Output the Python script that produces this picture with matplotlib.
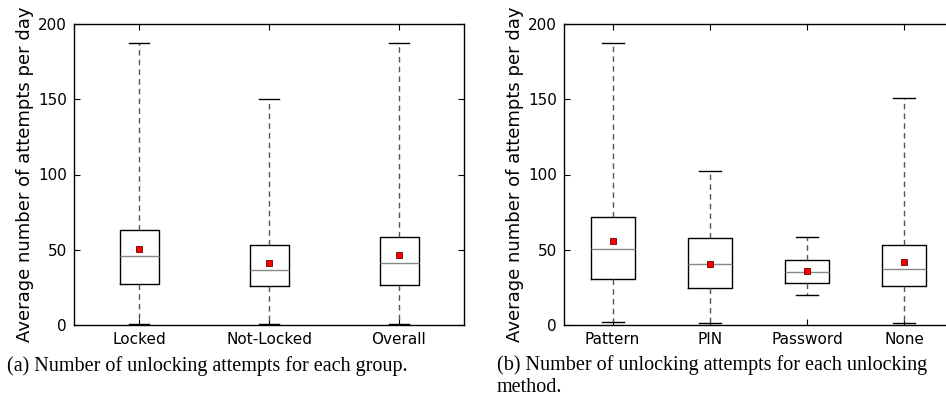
import matplotlib
matplotlib.use('Agg')
import matplotlib.pyplot as plt

# group view (a)
groups = ['Locked', 'Not-Locked', 'Overall']
grp_low = [0.5, 0.5, 0.5]
grp_q1 = [27.0, 25.7, 26.6]
grp_med = [45.6, 36.3, 41.0]
grp_q3 = [63.3, 53.2, 58.7]
grp_high = [187.2, 150.4, 187.2]
grp_mean = [50.5, 41.2, 46.5]

# unlocking method view (b)
methods = ['Pattern', 'PIN', 'Password', 'None']
mth_low = [1.8, 1.1, 19.7, 1.1]
mth_q1 = [30.4, 24.4, 28.1, 25.9]
mth_med = [50.3, 40.7, 35.0, 37.0]
mth_q3 = [71.8, 58.0, 43.0, 53.4]
mth_high = [187.2, 102.1, 58.3, 151.0]
mth_mean = [56.0, 40.5, 36.1, 42.1]

yticks = [0, 50, 100, 150, 200]
ylabel = 'Average number of attempts per day'
cap_a = '(a) Number of unlocking attempts for each group.'
cap_b = '(b) Number of unlocking attempts for each unlocking\nmethod.'


def make_stats(labels, low, q1, med, q3, high, mean):
    out = []
    for i in range(len(labels)):
        out.append(dict(label=labels[i], whislo=low[i], q1=q1[i], med=med[i],
                        q3=q3[i], whishi=high[i], mean=mean[i], fliers=[]))
    return out


def draw(ax, stats, width):
    ax.bxp(stats, widths=width, showmeans=True, showfliers=False,
           boxprops=dict(color='black', linewidth=1.0),
           medianprops=dict(color='#888888', linewidth=1.0),
           whiskerprops=dict(color='#555555', linestyle=(0, (4, 3)), linewidth=1.0),
           capprops=dict(color='black', linewidth=1.0),
           meanprops=dict(marker='s', markerfacecolor='red', markeredgecolor='#660000',
                          markersize=4.8, markeredgewidth=0.6))
    ax.set_ylim(0, 200)
    ax.set_yticks(yticks)
    ax.tick_params(direction='in', top=True, right=True, labelsize=11, length=4, pad=5)
    ax.set_ylabel(ylabel, fontsize=13, labelpad=3)
    for s in ax.spines.values():
        s.set_linewidth(1.0)


fig = plt.figure(figsize=(9.46, 4.0), dpi=100)
W, H = 946.0, 400.0

ax1 = fig.add_axes([74 / W, 1 - 325 / H, 390 / W, 301 / H])
draw(ax1, make_stats(groups, grp_low, grp_q1, grp_med, grp_q3, grp_high, grp_mean), 0.3)
ax1.set_xlim(0.5, 3.5)

# right panel runs past the figure edge, as in the reference
ax2 = fig.add_axes([564 / W, 1 - 325 / H, 389 / W, 301 / H])
draw(ax2, make_stats(methods, mth_low, mth_q1, mth_med, mth_q3, mth_high, mth_mean), 0.45)
ax2.set_xlim(0.5, 4.5)
ax2.spines['right'].set_visible(False)
ax2.tick_params(right=False)

fig.text(7 / W, 1 - 371 / H, cap_a, family='Liberation Serif', fontsize=14.5,
         va='baseline', ha='left')
fig.text(497 / W, 1 - 355 / H, cap_b, family='Liberation Serif', fontsize=14.5,
         va='top', ha='left', linespacing=1.2)

fig.savefig('out.png', dpi=100)
